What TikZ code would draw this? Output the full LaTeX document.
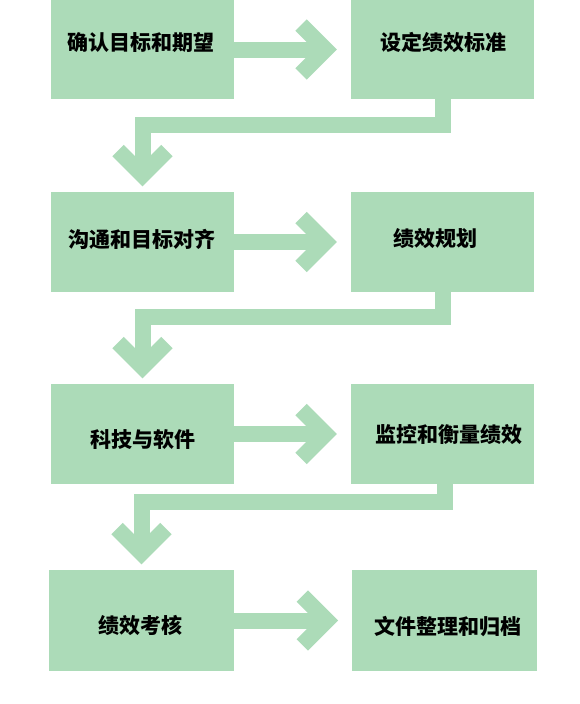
\documentclass[tikz,border=0pt]{standalone}
\usepackage{fontspec}
\newfontfamily\cjk{Noto Sans CJK SC}
\usepackage{xcolor}
\usetikzlibrary{arrows.meta, positioning, calc}
\definecolor{boxgreen}{RGB}{172,219,184}

\begin{document}
\begin{tikzpicture}[x=1pt, y=-1pt,
    box/.style={fill=boxgreen, inner sep=0pt, minimum width=183pt, minimum height=100pt},
    txt/.style={font=\cjk\bfseries\fontsize{21}{21}\selectfont, inner sep=0pt},
    flow/.style={draw=boxgreen, line width=16pt,
      -{Straight Barb[sharp, length=24.4pt, width=48.8pt]}}]
  \useasboundingbox (0,0) rectangle (580,704);
  % boxes
  \node[box, minimum height=99pt] (goal) at (142.5,49.5) {};
  \node[box, minimum height=99pt] (std) at (442.5,49.5) {};
  \node[box] (comm) at (142.5,242) {};
  \node[box] (plan) at (442.5,242) {};
  \node[box] (tech) at (142.5,434) {};
  \node[box] (mon) at (442.5,434) {};
  \node[box, minimum width=185pt, minimum height=101pt] (eval) at (141.5,620.5) {};
  \node[box, minimum width=185pt, minimum height=101pt] (file) at (444.8,620.5) {};
  % texts
  \node[txt] (goalt) at ([shift={(-1.5,-7)}]goal.center) {确认目标和期望};
  \node[txt] (stdt) at ([shift={(1,-7.5)}]std.center) {设定绩效标准};
  \node[txt] (commt) at ([shift={(-0.5,-3)}]comm.center) {沟通和目标对齐};
  \node[txt] (plant) at ([shift={(-7,-3)}]plan.center) {绩效规划};
  \node[txt] (techt) at ([shift={(0,5.5)}]tech.center) {科技与软件};
  \node[txt] (mont) at ([shift={(6.5,1)}]mon.center) {监控和衡量绩效};
  \node[txt] (evalt) at ([shift={(-1,4.5)}]eval.center) {绩效考核};
  \node[txt] (filet) at ([shift={(3,6)}]file.center) {文件整理和归档};
  % arrows
  \draw[flow, shorten >=14pt] (goal.east) -- (std.west);
  \draw[flow, shorten >=14pt] (comm.east) -- (plan.west);
  \draw[flow, shorten >=14pt] (tech.east) -- (mon.west);
  \draw[flow, shorten >=14pt] (eval.east) -- (file.west);
  \draw[flow, shorten >=5.5pt] (std.south) -- ++(0,26) -| (comm.north);
  \draw[flow, shorten >=5.5pt] (plan.south) -- ++(0,25) -| (tech.north);
  \draw[flow, shorten >=5.5pt] ([xshift=2pt]mon.south) -- ++(0,18) -| (eval.north);
\end{tikzpicture}
\end{document}
